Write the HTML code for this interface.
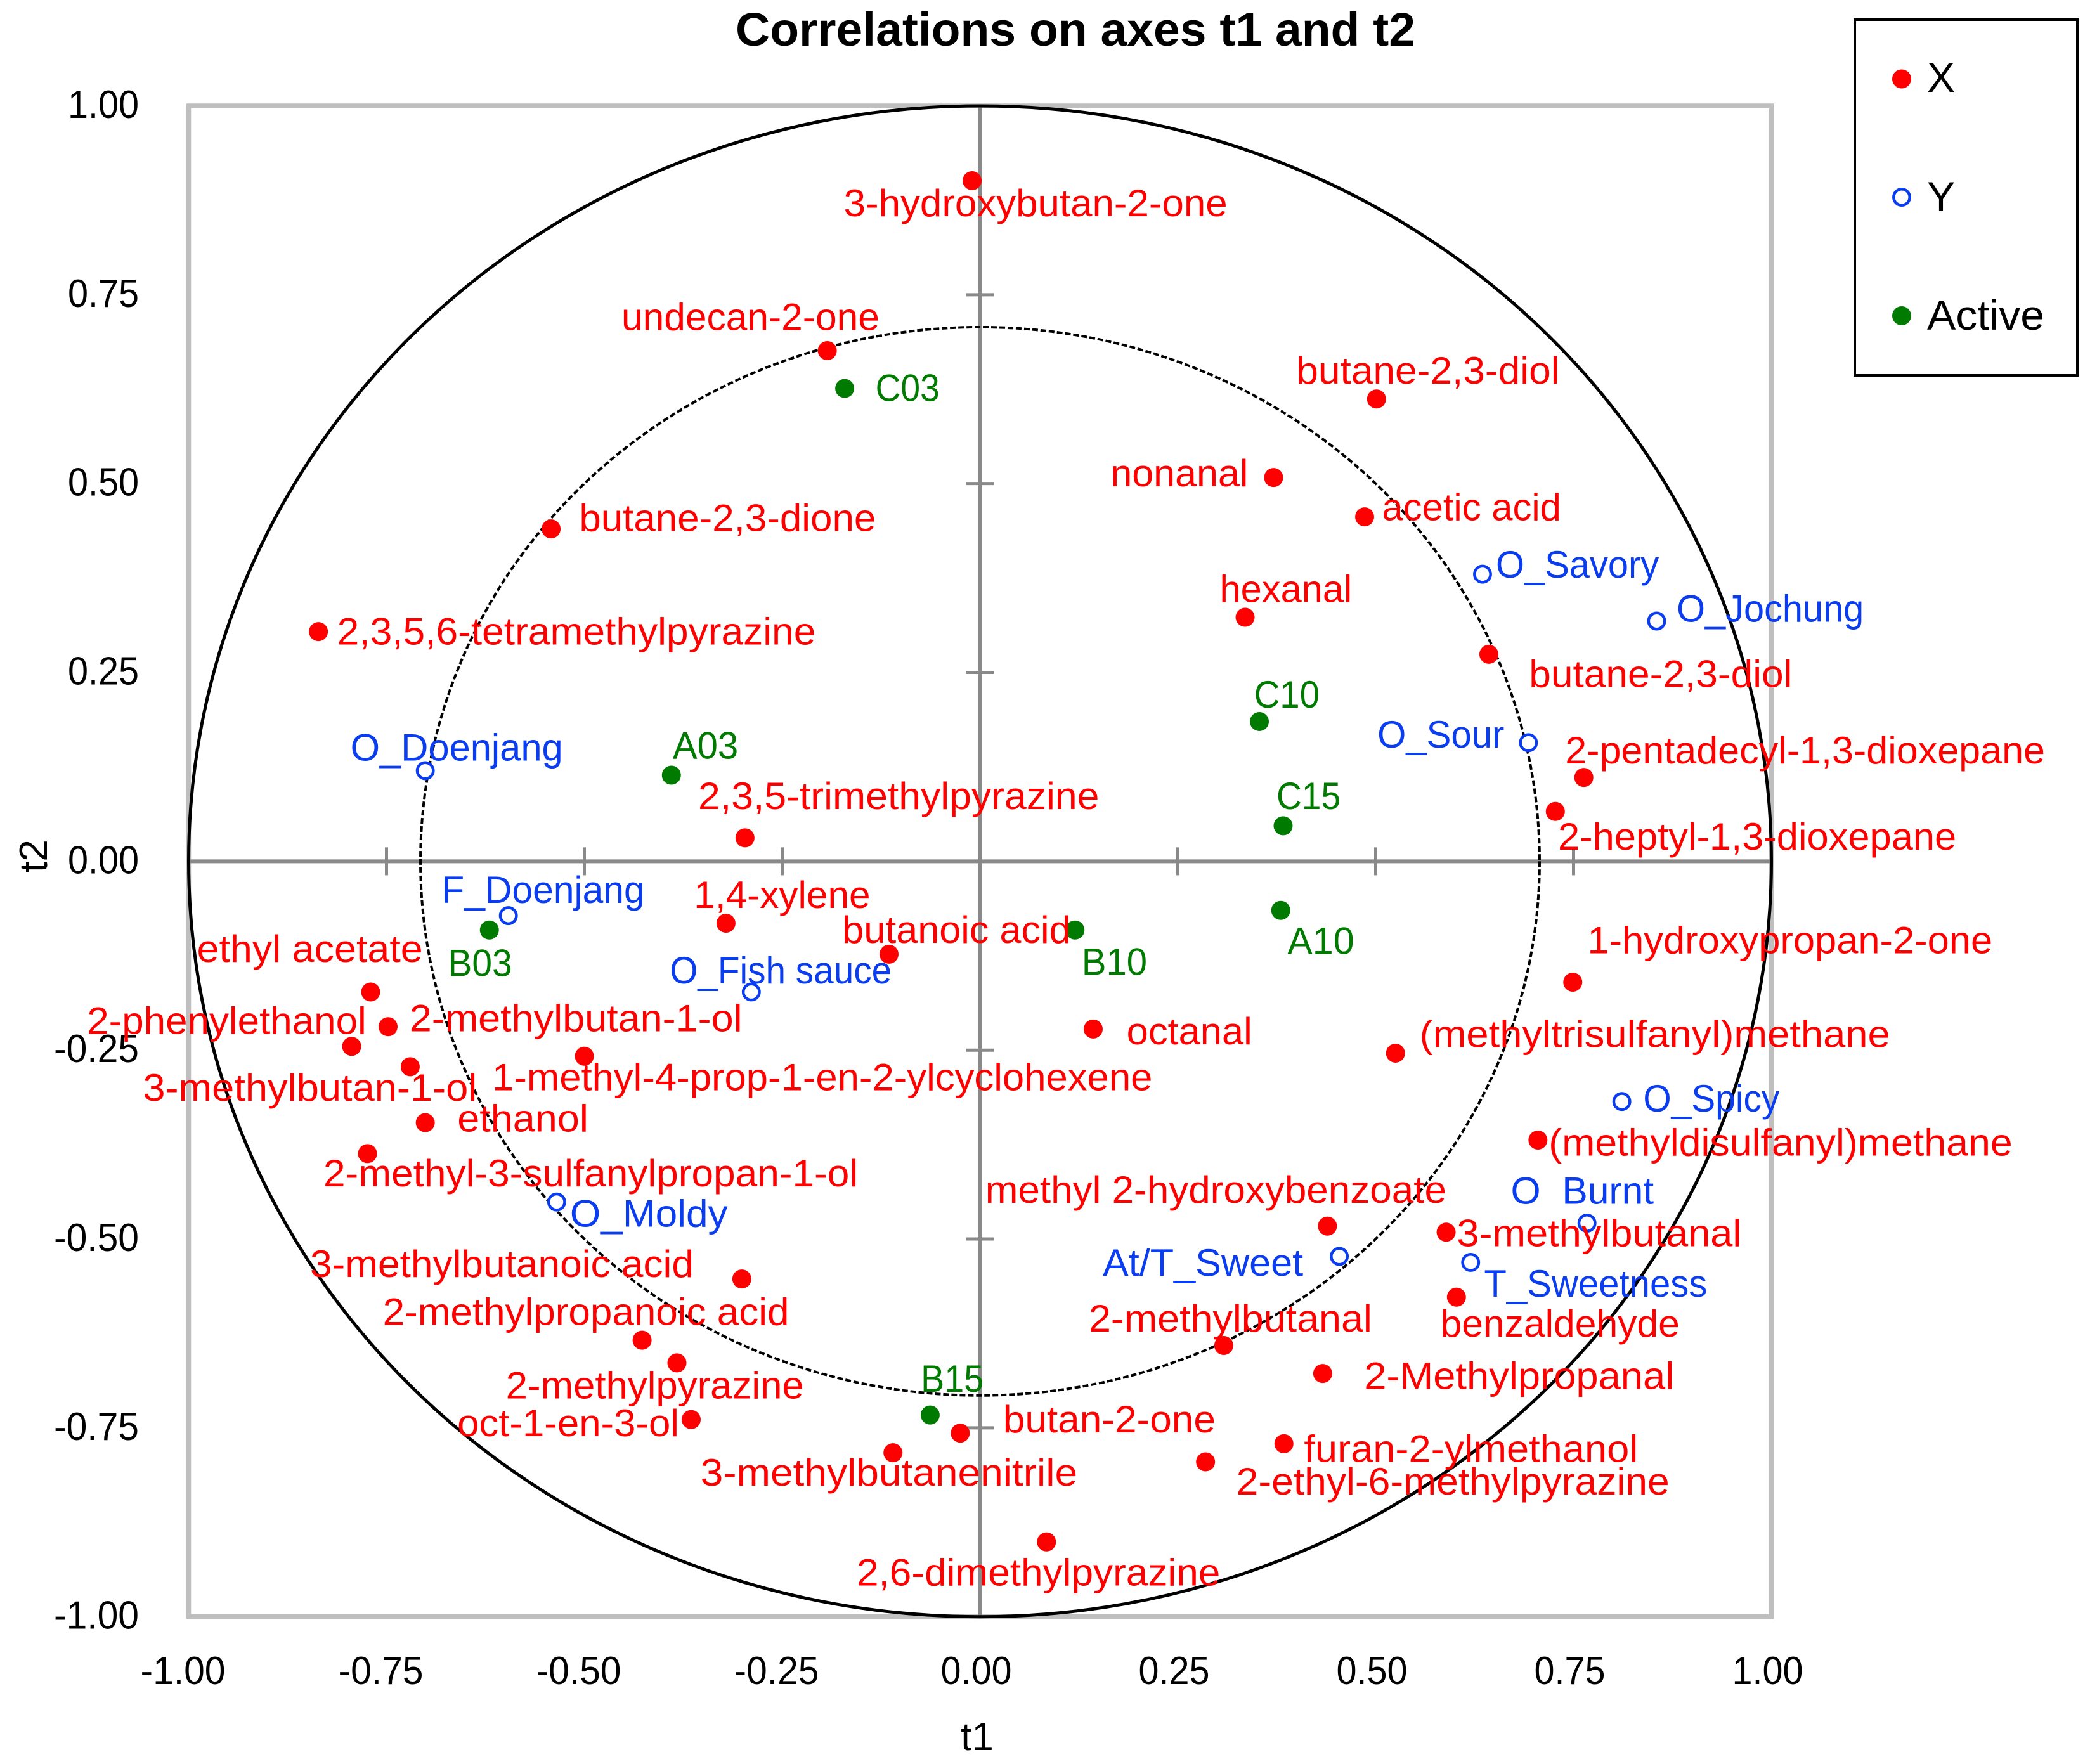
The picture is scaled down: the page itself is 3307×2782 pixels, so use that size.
<!DOCTYPE html>
<html>
<head>
<meta charset="utf-8">
<title>Correlations on axes t1 and t2</title>
<style>
html,body{margin:0;padding:0;background:#fff;}
svg{display:block;}
text{font-family:"Liberation Sans",sans-serif;white-space:pre;}
</style>
</head>
<body>
<svg id="chart" xmlns="http://www.w3.org/2000/svg" width="3307" height="2782" viewBox="0 0 3307 2782">
  <rect x="0" y="0" width="3307" height="2782" fill="#ffffff"/>
  <text x="1696" y="72" font-size="74" font-weight="bold" text-anchor="middle" textLength="1072" lengthAdjust="spacingAndGlyphs" fill="#000">Correlations on axes t1 and t2</text>
  <rect x="297.5" y="167" width="2496" height="2382.7" fill="none" stroke="#bfbfbf" stroke-width="7.5"/>
  <g id="axes"></g>
  <g id="circles"></g>
  <g id="marks"></g>
  <g id="labels"></g>
  <text x="1541" y="2760" font-size="62" text-anchor="middle" fill="#000">t1</text>
  <text x="0" y="0" font-size="62" text-anchor="middle" fill="#000" transform="translate(74,1350) rotate(-90)">t2</text>
  <g>
    <rect x="2925" y="31" width="351" height="561" fill="#fff" stroke="#000" stroke-width="4"/>
    <circle cx="2999" cy="124.5" r="15" fill="#ff0000"/>
    <text x="3039" y="145" font-size="66" fill="#000">X</text>
    <circle cx="2999" cy="311" r="12.7" fill="#fff" stroke="#0a3cf0" stroke-width="4.5"/>
    <text x="3039" y="333" font-size="66" fill="#000">Y</text>
    <circle cx="2999" cy="498" r="15" fill="#007a00"/>
    <text x="3039" y="520" font-size="66" textLength="185" lengthAdjust="spacingAndGlyphs" fill="#000">Active</text>
  </g>
</svg>
<script>
// ---- tick data ----
var tickValues = [-1, -0.75, -0.5, -0.25, 0, 0.25, 0.5, 0.75, 1];
var tickLabels = ["-1.00", "-0.75", "-0.50", "-0.25", "0.00", "0.25", "0.50", "0.75", "1.00"];

// ---- series X (red) ----
var xNames = ["3-hydroxybutan-2-one","undecan-2-one","butane-2,3-dione","2,3,5,6-tetramethylpyrazine","butane-2,3-diol","nonanal","acetic acid","hexanal","butane-2,3-diol","2-pentadecyl-1,3-dioxepane","2-heptyl-1,3-dioxepane","2,3,5-trimethylpyrazine","1,4-xylene","butanoic acid","1-hydroxypropan-2-one","octanal","(methyltrisulfanyl)methane","(methyldisulfanyl)methane","ethyl acetate","2-phenylethanol","2-methylbutan-1-ol","3-methylbutan-1-ol","1-methyl-4-prop-1-en-2-ylcyclohexene","ethanol","2-methyl-3-sulfanylpropan-1-ol","methyl 2-hydroxybenzoate","3-methylbutanal","3-methylbutanoic acid","benzaldehyde","2-methylpropanoic acid","2-methylbutanal","2-methylpyrazine","2-Methylpropanal","oct-1-en-3-ol","butan-2-one","3-methylbutanenitrile","furan-2-ylmethanol","2-ethyl-6-methylpyrazine","2,6-dimethylpyrazine"];
var xT1 = [-0.010,-0.193,-0.542,-0.836,0.501,0.371,0.486,0.335,0.643,0.763,0.727,-0.297,-0.321,-0.115,0.749,0.143,0.525,0.705,-0.770,-0.794,-0.748,-0.720,-0.500,-0.701,-0.774,0.439,0.589,-0.301,0.602,-0.427,0.308,-0.383,0.433,-0.365,-0.025,-0.110,0.384,0.285,0.084];
var xT2 = [0.901,0.676,0.440,0.304,0.612,0.508,0.456,0.323,0.274,0.111,0.066,0.031,-0.082,-0.123,-0.160,-0.222,-0.254,-0.369,-0.173,-0.245,-0.219,-0.272,-0.258,-0.346,-0.387,-0.483,-0.491,-0.553,-0.577,-0.634,-0.641,-0.664,-0.678,-0.739,-0.757,-0.783,-0.771,-0.795,-0.901];

// ---- series Y (blue) ----
var yNames = ["O_Savory","O_Jochung","O_Sour","O_Doenjang","F_Doenjang","O_Fish sauce","O_Spicy","O  Burnt","T_Sweetness","At/T_Sweet","O_Moldy"];
var yT1 = [0.635,0.855,0.693,-0.701,-0.596,-0.289,0.811,0.767,0.620,0.454,-0.535];
var yT2 = [0.380,0.318,0.157,0.120,-0.072,-0.173,-0.318,-0.479,-0.531,-0.523,-0.451];

// ---- series Active (green) ----
var activeNames = ["C03","A03","C10","C15","B03","B10","A10","B15"];
var activeT1 = [-0.171,-0.390,0.353,0.383,-0.620,0.120,0.380,-0.063];
var activeT2 = [0.626,0.114,0.185,0.047,-0.091,-0.091,-0.065,-0.733];

// ---- label placement relative to the marker (manual layout, not data) ----
var xLabelLayout = [[-96,18,287],[-154,-24,193],[21,-7,222],[14,1,358],[-60,-20,197],[-122,-2,103],[13,-6,134],[-19,-20,99],[30,16,197],[-14,-19,359],[2,20,298],[-35,-30,300],[-24,-20,132],[-35,-17,171],[11,-30,303],[25,3,94],[18,-13,352],[8,3,347],[-130,-31,169],[-198,-18,209],[16,-5,249],[-200,17,250],[-69,17,494],[24,-2,98],[-33,16,400],[-256,-26,345],[8,2,213],[-323,-10,287],[-12,21,179],[-194,-20,304],[-101,-19,212],[-128,18,223],[31,3,232],[-175,4,166],[32,-9,159],[-144,16,282],[15,5,250],[23,16,324],[-142,24,272]];
var yLabelLayout = [[10,-6,122],[15,-8,140],[-113,-5,95],[-56,-16,159],[-50,-18,152],[-61,-15,166],[16,-1,102],[-57,-23,107],[10,17,167],[-177,6,150],[10,10,118]];
var activeLabelLayout = [[23,1,48],[1,-21,49],[-4,-19,49],[-5,-21,48],[-31,26,48],[5,25,49],[5,24,50],[-7,-26,47]];

var SVGNS = 'http://www.w3.org/2000/svg';
var layoutScale = 2.108;
var plotLeft = 297.5, plotRight = 2793.5, plotTop = 167, plotBottom = 2549.7;
function sx(v){ return plotLeft + (v + 1) / 2 * (plotRight - plotLeft); }
function sy(v){ return plotBottom - (v + 1) / 2 * (plotBottom - plotTop); }
function slug(s){ return s.toLowerCase().replace(/[^a-z0-9]+/g, '-').replace(/^-|-$/g, ''); }
function make(tag, attrs){
  var el = document.createElementNS(SVGNS, tag);
  for (var k in attrs){ el.setAttribute(k, attrs[k]); }
  return el;
}

// axes
var axes = document.getElementById('axes');
var xAxis = make('line', {x1: sx(-1), x2: sx(1), y1: sy(0), y2: sy(0), stroke: '#898989', 'stroke-width': 6});


axes.appendChild(xAxis);
var yAxis = make('line', {x1: sx(0), x2: sx(0), y1: sy(-1), y2: sy(1), stroke: '#898989', 'stroke-width': 5});


axes.appendChild(yAxis);

tickValues.forEach(function(v, i){
  if (v !== 0 && Math.abs(v) !== 1){
    var tx = make('line', {x1: sx(v), x2: sx(v), y1: sy(0) - 22, y2: sy(0) + 22, stroke: '#898989', 'stroke-width': 5});
    
    
    axes.appendChild(tx);
    var ty = make('line', {x1: sx(0) - 22, x2: sx(0) + 22, y1: sy(v), y2: sy(v), stroke: '#898989', 'stroke-width': 5});
    
    
    axes.appendChild(ty);
  }
  var neg = v < 0;
  var lx = make('text', {x: sx(v) + (neg ? -9 : -6), y: 2656, 'font-size': 62, 'text-anchor': 'middle', textLength: neg ? 134 : 112, lengthAdjust: 'spacingAndGlyphs', fill: '#000'});
  
  
  lx.textContent = tickLabels[i];
  axes.appendChild(lx);
  var ly = make('text', {x: 219, y: sy(v) + 19, 'font-size': 62, 'text-anchor': 'end', textLength: neg ? 134 : 112, lengthAdjust: 'spacingAndGlyphs', fill: '#000'});
  
  
  ly.textContent = tickLabels[i];
  axes.appendChild(ly);
});

// circles
var circles = document.getElementById('circles');
var outer = make('ellipse', {cx: sx(0), cy: sy(0), rx: sx(1) - sx(0), ry: sy(0) - sy(1), fill: 'none', stroke: '#000', 'stroke-width': 5});


circles.appendChild(outer);
var inner = make('ellipse', {cx: sx(0), cy: sy(0), rx: sx(0.7071) - sx(0), ry: sy(0) - sy(0.7071), fill: 'none', stroke: '#000', 'stroke-width': 4, 'stroke-dasharray': '9 4'});


circles.appendChild(inner);

// marks + labels
var marks = document.getElementById('marks');
var labels = document.getElementById('labels');
function drawSeries(prefix, names, t1, t2, layout, color, hollow){
  names.forEach(function(name, i){
    var cx = sx(t1[i]), cy = sy(t2[i]);
    var dot = make('circle', hollow
      ? {cx: cx, cy: cy, r: 12.7, fill: '#fff', stroke: color, 'stroke-width': 4.5}
      : {cx: cx, cy: cy, r: 15, fill: color});
    
    
    marks.appendChild(dot);
    var off = layout[i];
    var txt = make('text', {
      x: cx + off[0] * layoutScale,
      y: cy + off[1] * layoutScale + 18,
      'font-size': 60,
      textLength: off[2] * layoutScale,
      lengthAdjust: 'spacingAndGlyphs',
      fill: color
    });
    
    
    txt.textContent = name;
    labels.appendChild(txt);
  });
}
drawSeries('active', activeNames, activeT1, activeT2, activeLabelLayout, '#007a00', false);
drawSeries('y', yNames, yT1, yT2, yLabelLayout, '#0a3cf0', true);
drawSeries('x', xNames, xT1, xT2, xLabelLayout, '#ff0000', false);
</script>
</body>
</html>
